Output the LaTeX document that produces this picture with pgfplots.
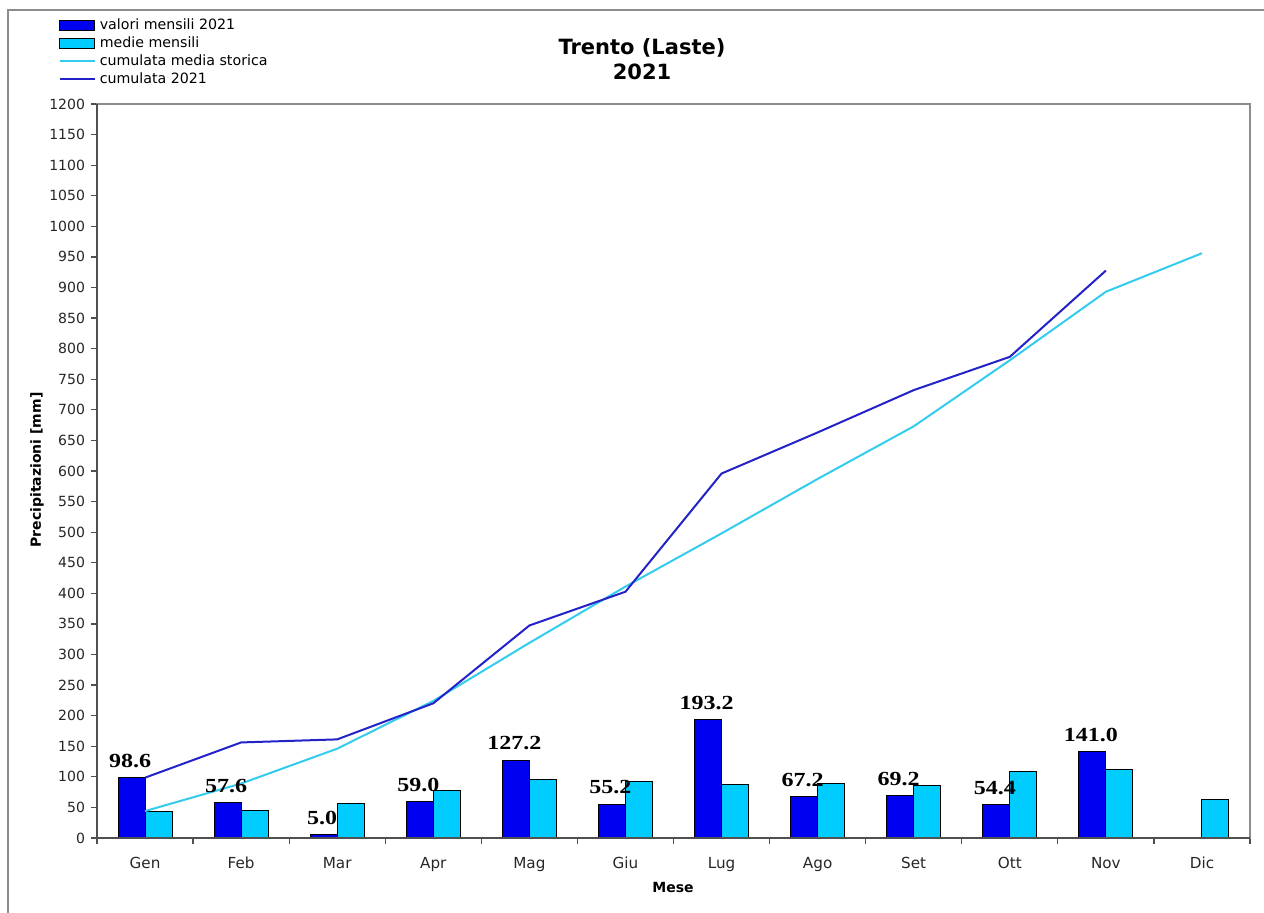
\documentclass[border=0pt]{standalone}
\usepackage{pgfplots}
\pgfplotsset{compat=1.18}
\usepackage{fontspec}
\setmainfont{DejaVu Sans}
\newfontfamily\labfont[FakeStretch=1.2]{Liberation Serif}
\definecolor{barblue}{RGB}{0,0,240}
\definecolor{barcyan}{RGB}{0,204,255}
\definecolor{linecyan}{RGB}{51,204,238}
\definecolor{linedark}{RGB}{34,34,200}
\definecolor{axgray}{RGB}{140,140,140}
\definecolor{axdark}{RGB}{80,80,80}
\begin{document}
\begin{tikzpicture}[x=1pt,y=1pt]
\useasboundingbox (0,0) rectangle (632,456.5);
\draw[axgray, line width=1pt] (4,-2) -- (4,451.5) -- (634,451.5);
\begin{axis}[
  at={(48.5pt,37.5pt)}, anchor=south west,
  scale only axis, width=576.5pt, height=367pt,
  xmin=-0.5, xmax=11.5, ymin=0, ymax=1200,
  ytick={0,50,...,1200},
  xtick={0,...,11},
  xticklabels={Gen,Feb,Mar,Apr,Mag,Giu,Lug,Ago,Set,Ott,Nov,Dic},
  minor xtick={-0.5,0.5,...,11.5},
  tick align=outside, xtick pos=bottom, ytick pos=left,
  major x tick style={draw=none},
  minor x tick style={axdark, line width=0.6pt},
  minor tick length=3pt,
  major tick length=3pt,
  y tick style={axdark, line width=0.6pt},
  axis line style={axgray, line width=0.6pt},
  yticklabel style={font=\fontsize{7}{8}\selectfont, text=black!85, xshift=0.5pt},
  xticklabel style={font=\fontsize{7.6}{9}\selectfont, text=black!85, yshift=-3pt},
  /pgf/number format/assume math mode=true,
  /pgf/number format/1000 sep={},
  legend style={at={(-0.0335,1.128)}, anchor=north west, draw=none, fill=none,
    font=\fontsize{7.1}{8}\selectfont, row sep=-1.9pt, inner xsep=0pt},
  legend cell align=left,
  clip=false,
  after end axis/.code={
    \draw[axdark, line width=0.7pt] (rel axis cs:0,1) -- (rel axis cs:0,0) -- (rel axis cs:1,0);
  },
]
\addplot[ybar, bar width=13.5pt, bar shift=-6.75pt, fill=barblue, draw=black, line width=0.5pt,
  nodes near coords={\pgfmathprintnumber[fixed,fixed zerofill,precision=1]{\pgfplotspointmeta}},
  every node near coord/.append style={font=\labfont\bfseries\fontsize{10}{12}\selectfont, text=black, anchor=south, yshift=1.5pt, xshift=-7.5pt},
  legend image code/.code={\draw[fill=barblue,draw=black,line width=0.5pt] (0pt,-2.4pt) rectangle (17.5pt,2.4pt);}]
  coordinates {(0,98.6) (1,57.6) (2,5.0) (3,59.0) (4,127.2) (5,55.2) (6,193.2) (7,67.2) (8,69.2) (9,54.4) (10,141.0)};
\addlegendentry{valori mensili 2021}
\addplot[ybar, bar width=13.5pt, bar shift=6.75pt, fill=barcyan, draw=black, line width=0.5pt,
  legend image code/.code={\draw[fill=barcyan,draw=black,line width=0.5pt] (0pt,-2.4pt) rectangle (17.5pt,2.4pt);}]
  coordinates {(0,44) (1,45) (2,57) (3,78) (4,95) (5,92) (6,87) (7,89) (8,86) (9,108) (10,112) (11,63)};
\addlegendentry{medie mensili}
\addplot[sharp plot, linecyan, line width=1pt, mark=none,
  legend image code/.code={\draw[linecyan,line width=1pt] (0pt,0pt) -- (17.5pt,0pt);}]
  coordinates {(0,44) (1,89) (2,146) (3,224) (4,319) (5,411) (6,498) (7,587) (8,673) (9,781) (10,893) (11,956)};
\addlegendentry{cumulata media storica}
\addplot[sharp plot, linedark, line width=1pt, mark=none,
  legend image code/.code={\draw[linedark,line width=1pt] (0pt,0pt) -- (17.5pt,0pt);}]
  coordinates {(0,98.6) (1,156.2) (2,161.2) (3,220.2) (4,347.4) (5,402.6) (6,595.8) (7,663.0) (8,732.2) (9,786.6) (10,927.6)};
\addlegendentry{cumulata 2021}
\end{axis}
\node[font=\bfseries\fontsize{10.5}{12.5}\selectfont, align=center] at (321,427) {Trento (Laste)\\2021};
\node[font=\bfseries\fontsize{7}{8}\selectfont, rotate=90] at (18.5,221.5) {Precipitazioni [mm]};
\node[font=\bfseries\fontsize{7}{8}\selectfont] at (336.5,12.5) {Mese};
\end{tikzpicture}
\end{document}
